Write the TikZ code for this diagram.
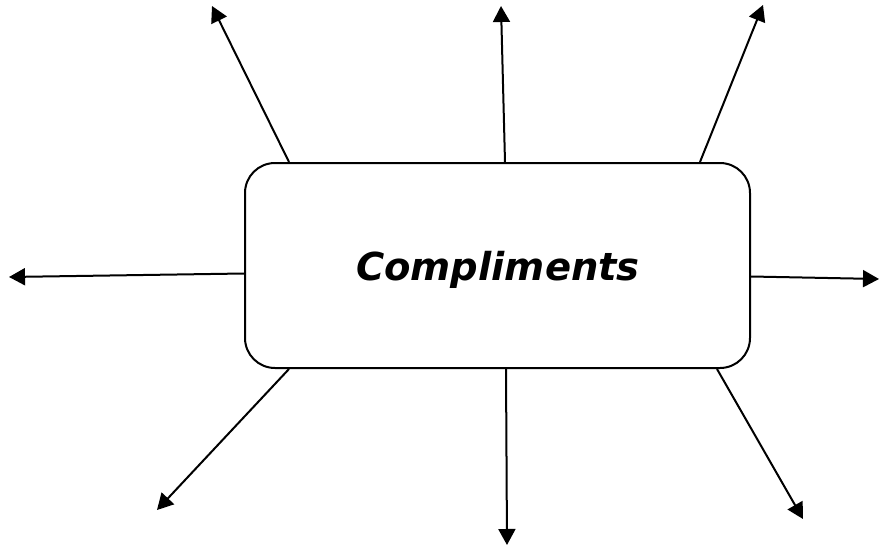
\documentclass[tikz,border=0pt]{standalone}
\usepackage{fontspec}
\setmainfont{DejaVu Sans}
\usetikzlibrary{arrows.meta,calc}
\begin{document}
\begin{tikzpicture}[x=1pt,y=-1pt,
  conn/.style={line width=2pt,-{Triangle[length=16pt,width=17pt]}},
  mainbox/.style={draw,line width=2pt,rounded corners=30pt,minimum width=505pt,minimum height=205pt,inner sep=0pt}]
\useasboundingbox (0,0) rectangle (879,546);
\node[mainbox] (box) at (497.5,265.5) {};
\node (lbl) at (498,270) {\fontsize{38.5}{46}\selectfont\bfseries\itshape Compliments};
% tips
\coordinate (t1) at (212,6);
\coordinate (t2) at (501,6);
\coordinate (t3) at (763,5);
\coordinate (t4) at (9,277);
\coordinate (t5) at (879,279);
\coordinate (t6) at (157,510);
\coordinate (t7) at (507,545);
\coordinate (t8) at (803,519);
\draw[conn] ($(box.north west)+(45,0)$) -- (t1);
\draw[conn] ($(box.north west)+(261,0)$) -- (t2);
\draw[conn] ($(box.north west)+(456,0)$) -- (t3);
\draw[conn] ($(box.west)+(0,8)$) -- (t4);
\draw[conn] ($(box.east)+(0,11)$) -- (t5);
\draw[conn] ($(box.south west)+(45,0)$) -- (t6);
\draw[conn] ($(box.south west)+(262,0)$) -- (t7);
\draw[conn] ($(box.south west)+(473,0)$) -- (t8);
\end{tikzpicture}
\end{document}
